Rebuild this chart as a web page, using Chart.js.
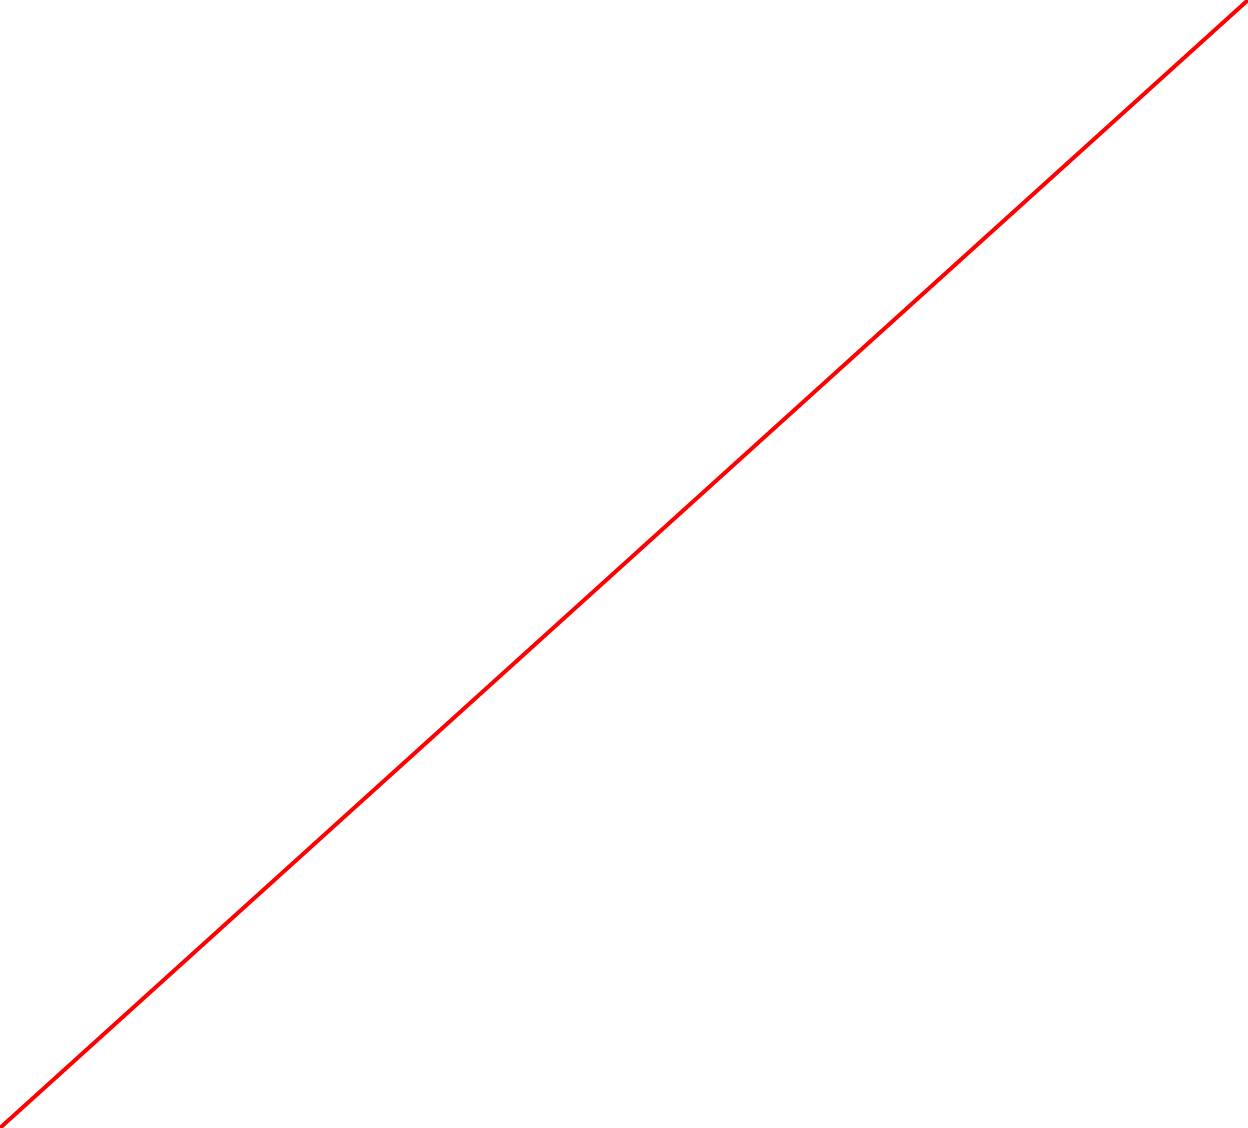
<!DOCTYPE html>
<html>
<head>
<meta charset="utf-8">
<script src="https://cdn.jsdelivr.net/npm/chart.js@4/dist/chart.umd.min.js"></script>
<style>
    html, body { margin: 0; padding: 0; background: #fff; overflow: hidden; }
    canvas { display: block; }
</style>
</head>
<body>
<canvas id="lineChart" width="1248" height="1128"></canvas>
<script>
// Data: a single straight series from bottom-left to top-right
const xValues = [0, 1];
const yValues = [0, 1];

const points = xValues.map((x, i) => ({ x: x, y: yValues[i] }));

const ctx = document.getElementById('lineChart').getContext('2d');
new Chart(ctx, {
    type: 'line',
    data: {
        datasets: [{
            data: points,
            borderColor: '#ff0000',
            borderWidth: 4,
            pointRadius: 0,
            fill: false,
            tension: 0
        }]
    },
    options: {
        responsive: false,
        animation: false,
        devicePixelRatio: 1,
        layout: { padding: 0 },
        plugins: {
            legend: { display: false },
            tooltip: { enabled: false }
        },
        scales: {
            x: { type: 'linear', min: 0, max: 1, display: false },
            y: { type: 'linear', min: 0, max: 1, display: false }
        }
    }
});
</script>
</body>
</html>
